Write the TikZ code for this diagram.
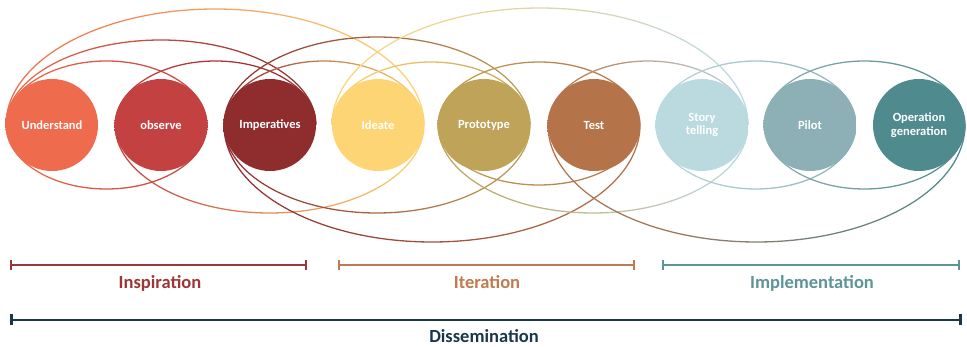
\documentclass[tikz,border=0pt]{standalone}
\usepackage{fontspec}
\setmainfont{Carlito}
\usetikzlibrary{calc,backgrounds,arrows.meta}

\definecolor{ccunderstand}{RGB}{238,107,77}
\definecolor{ccobserve}{RGB}{196,65,65}
\definecolor{ccimperatives}{RGB}{143,45,46}
\definecolor{ccideate}{RGB}{254,213,117}
\definecolor{ccprototype}{RGB}{191,163,89}
\definecolor{cctest}{RGB}{181,115,74}
\definecolor{ccstory}{RGB}{186,218,224}
\definecolor{ccpilot}{RGB}{140,176,181}
\definecolor{ccoperation}{RGB}{79,138,143}
\definecolor{ccinspiration}{RGB}{155,55,55}
\definecolor{cciteration}{RGB}{193,122,80}
\definecolor{ccimplementation}{RGB}{93,148,153}
\definecolor{ccdissemination}{RGB}{24,56,74}

\tikzset{
  stage/.style={circle, minimum size=92pt, inner sep=0pt, outer sep=0pt, text=white, align=center, font=\fontsize{12.5}{13.5}\selectfont\bfseries},
  phase/.style={line width=2.4pt, arrows={Bar[width=10pt]-Bar[width=10pt]}},
  phaselabel/.style={anchor=base, font=\fontsize{18.5}{20}\selectfont\bfseries},
}

% Gradient ring between the outer sides of two stages
\newcommand\linkarc[5]{%
  \shade[left color=#4, right color=#5, even odd rule]
    let \p1=(#1.west), \p2=(#2.east) in
    ($(\p1)!0.5!(\p2)$) ellipse [x radius={0.5*(\x2-\x1)+0.65pt}, y radius={#3pt+0.65pt}]
    ($(\p1)!0.5!(\p2)$) ellipse [x radius={0.5*(\x2-\x1)-0.65pt}, y radius={#3pt-0.65pt}];
}

\begin{document}
\begin{tikzpicture}[x=1pt, y=-1pt]

  % Bounding box of the scheme
  \useasboundingbox (0,0) rectangle (967,347);

  %%%%%%%%%%%%%%%%%%%%%%%%%%%%%%%%% Stages %%%%%%%%%%%%%%%%%%%%%%%%%%%%%%%%%%%%
  \draw (52,125) node[stage, fill=ccunderstand] (und) {Understand} ;
  \draw (161,125) node[stage, fill=ccobserve] (obs) {observe} ;
  \draw (270,125) node[stage, fill=ccimperatives] (imp) {Imperatives} ;
  \draw (378,125) node[stage, fill=ccideate] (ide) {Ideate} ;
  \draw (484,125) node[stage, fill=ccprototype] (pro) {Prototype} ;
  \draw (594,125) node[stage, fill=cctest] (tes) {Test} ;
  \draw (702,125) node[stage, fill=ccstory] (sto) {Story\\telling} ;
  \draw (810,125) node[stage, fill=ccpilot] (pil) {Pilot} ;
  \draw (919,125) node[stage, fill=ccoperation] (ope) {Operation\\generation} ;

  %%%%%%%%%%%%%%%%%%%%%%%%%%%%%%%%% Links between stages %%%%%%%%%%%%%%%%%%%%%%%%%%%%%%%%%%%%
  \begin{scope}[on background layer]

    % Upper arcs
    \begin{scope}
      \clip (0,0) rectangle (967,125) ;
      \linkarc{und}{obs}{64}{ccunderstand}{ccobserve}
      \linkarc{und}{imp}{85}{ccunderstand}{ccimperatives}
      \linkarc{und}{ide}{116}{ccunderstand}{ccideate}
      \linkarc{obs}{imp}{64}{ccobserve}{ccimperatives}
      \linkarc{imp}{ide}{64}{ccimperatives}{ccideate}
      \linkarc{imp}{pro}{88}{ccimperatives}{ccprototype}
      \linkarc{ide}{pro}{63}{ccideate}{ccprototype}
      \linkarc{ide}{sto}{117}{ccideate}{ccstory}
      \linkarc{pro}{tes}{63}{ccprototype}{cctest}
      \linkarc{tes}{sto}{64}{cctest}{ccstory}
      \linkarc{sto}{pil}{64}{ccstory}{ccpilot}
      \linkarc{pil}{ope}{64}{ccpilot}{ccoperation}
    \end{scope}

    % Lower arcs
    \begin{scope}
      \clip (0,125) rectangle (967,347) ;
      \linkarc{und}{obs}{64}{ccunderstand}{ccobserve}
      \linkarc{obs}{ide}{88}{ccobserve}{ccideate}
      \linkarc{imp}{pro}{88}{ccimperatives}{ccprototype}
      \linkarc{imp}{tes}{117}{ccimperatives}{cctest}
      \linkarc{pro}{tes}{60}{ccprototype}{cctest}
      \linkarc{pro}{sto}{88}{ccprototype}{ccstory}
      \linkarc{tes}{ope}{117}{cctest}{ccoperation}
      \linkarc{sto}{pil}{64}{ccstory}{ccpilot}
      \linkarc{pil}{ope}{64}{ccpilot}{ccoperation}
    \end{scope}

  \end{scope}

  %%%%%%%%%%%%%%%%%%%%%%%%%%%%%%%%% Phases %%%%%%%%%%%%%%%%%%%%%%%%%%%%%%%%%%%%
  \coordinate (insp-l) at (10,265) ;
  \coordinate (insp-r) at (307,265) ;
  \coordinate (iter-l) at (338,265) ;
  \coordinate (iter-r) at (635,265) ;
  \coordinate (impl-l) at (662,265) ;
  \coordinate (impl-r) at (960,265) ;
  \coordinate (diss-l) at (10,320) ;
  \coordinate (diss-r) at (962,320) ;

  \draw[phase, ccinspiration] (insp-l) -- (insp-r) ;
  \draw[phase, cciteration] (iter-l) -- (iter-r) ;
  \draw[phase, ccimplementation] (impl-l) -- (impl-r) ;
  \draw[phase, ccdissemination, line width=2.8pt, arrows={Bar[width=11pt]-Bar[width=11pt]}] (diss-l) -- (diss-r) ;

  \draw (160,289) node[phaselabel, text=ccinspiration] (insp) {Inspiration} ;
  \draw (487,289) node[phaselabel, text=cciteration] (iter) {Iteration} ;
  \draw (812,289) node[phaselabel, text=ccimplementation] (impl) {Implementation} ;
  \draw (484,343) node[phaselabel, text=ccdissemination] (diss) {Dissemination} ;

\end{tikzpicture}
\end{document}
